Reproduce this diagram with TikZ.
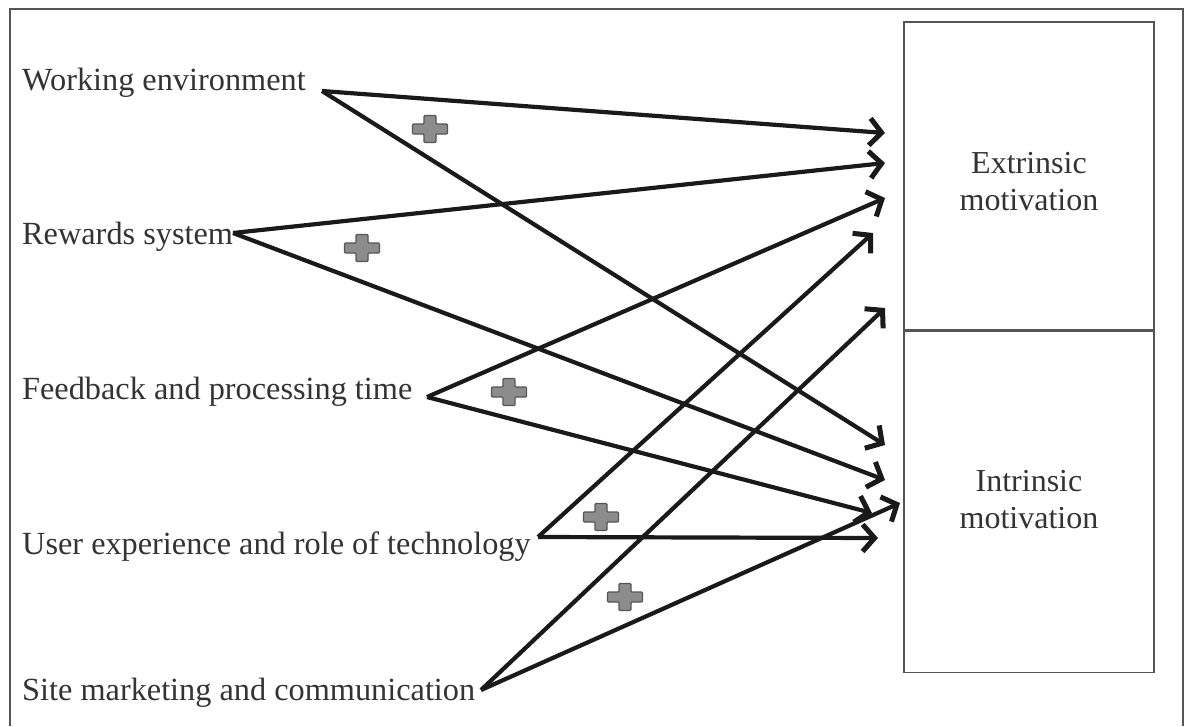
\documentclass[tikz,border=0pt]{standalone}
\usepackage{fontspec}
\setmainfont{Liberation Serif}
\usetikzlibrary{arrows.meta,positioning}
\definecolor{ink}{HTML}{1A1A1A}
\definecolor{textgray}{HTML}{333333}
\definecolor{framegray}{HTML}{555555}
\definecolor{plusgray}{HTML}{8C8C8C}
\tikzset{
  factor/.style={anchor=base west, inner sep=0pt, text=textgray, font=\fontsize{32.3}{36}\selectfont},
  motive/.style={rectangle, draw=framegray, line width=1.5pt, align=center, minimum width=250pt, text=textgray, font=\fontsize{32}{37}\selectfont},
  arrow/.style={-{Straight Barb[length=12pt,width=27pt,line width=0pt 1.2]}, line width=4.2pt, draw=ink},
  plusmark/.pic={
    \draw[draw=framegray, fill=plusgray, line width=1.2pt, rounded corners=1pt]
      (-6,-13.5) -- (6,-13.5) -- (6,-5) -- (17.5,-5) -- (17.5,5) -- (6,5) -- (6,13.5)
      -- (-6,13.5) -- (-6,5) -- (-17.5,5) -- (-17.5,-5) -- (-6,-5) -- cycle;
  }
}
\begin{document}
\begin{tikzpicture}[x=1pt, y=-1pt]
  \useasboundingbox (0,0) rectangle (1189,726);
  \draw[framegray, line width=2pt] (10,726) -- (10,9) -- (1183,9) -- (1183,726);
  \node[motive, minimum height=308pt] (ext) at (1029,176) {};
  \node[motive, minimum height=341pt, below=0pt of ext] (int) {};
  \node[motive, draw=none, minimum height=0pt] (ext-t) at (1029,182) {Extrinsic\\motivation};
  \node[motive, draw=none, minimum height=0pt] (int-t) at (1029,500) {Intrinsic\\motivation};
  \node[factor] (work) at (22,90) {Working environment};
  \node[factor] (rew) at (22,244) {Rewards system};
  \node[factor] (feed) at (22,399) {Feedback and processing time};
  \node[factor] (tech) at (22,554) {User experience and role of technology};
  \node[factor] (mark) at (22,700) {Site marketing and communication};
  \coordinate (work-o) at (322,91);
  \coordinate (rew-o) at (233,233);
  \coordinate (feed-o) at (427,397);
  \coordinate (tech-o) at (538,537);
  \coordinate (mark-o) at (481,690);
  \coordinate (ext-1) at (885,133);
  \coordinate (ext-2) at (885,163);
  \coordinate (ext-3) at (885,198);
  \coordinate (ext-4) at (873,233);
  \coordinate (ext-5) at (885,308);
  \coordinate (int-1) at (885,445);
  \coordinate (int-2) at (885,480);
  \coordinate (int-3) at (872,513);
  \coordinate (int-4) at (878,538);
  \coordinate (int-5) at (900,503);
  \draw[arrow] (work-o) -- (ext-1);
  \draw[arrow] (work-o) -- (int-1);
  \draw[arrow] (rew-o) -- (ext-2);
  \draw[arrow] (rew-o) -- (int-2);
  \draw[arrow] (feed-o) -- (ext-3);
  \draw[arrow] (feed-o) -- (int-3);
  \draw[arrow] (tech-o) -- (ext-4);
  \draw[arrow] (tech-o) -- (int-4);
  \draw[arrow] (mark-o) -- (ext-5);
  \draw[arrow] (mark-o) -- (int-5);
  \pic at (430,129) {plusmark};
  \pic at (362,248) {plusmark};
  \pic at (509,392) {plusmark};
  \pic at (601,517) {plusmark};
  \pic at (625,597) {plusmark};
\end{tikzpicture}
\end{document}
